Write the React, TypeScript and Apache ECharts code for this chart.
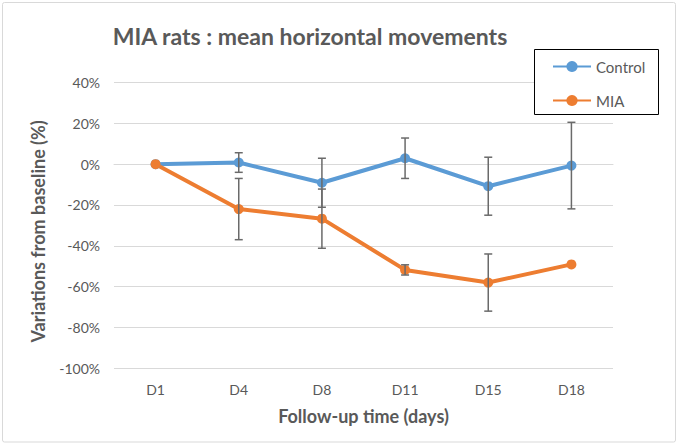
import React, { useEffect, useRef } from "react";
import * as echarts from "echarts";

const categories = ["D1", "D4", "D8", "D11", "D15", "D18"];
const controlValues = [0, 0.8, -9.1, 2.9, -10.8, -0.7];
const controlErrors: (number | null)[] = [null, 4.8, 12, 9.9, 14.2, 21.2];
const miaValues = [0, -22, -26.7, -51.8, -58, -49.1];
const miaErrors: (number | null)[] = [null, 15, 14.5, 2.5, 14, null];
const yMin = -100;
const yMax = 40;
const yStep = 20;

const TEXT = "#595959";
const FONT = "Lato, 'Noto Sans', sans-serif";

function errorData(values: number[], errors: (number | null)[]) {
  const out: number[][] = [];
  values.forEach((v, i) => {
    const e = errors[i];
    if (e != null) out.push([i, v - e, v + e]);
  });
  return out;
}

function errorSeries(name: string, data: number[][]) {
  return {
    name,
    type: "custom",
    z: 3,
    data,
    encode: { x: 0, y: [1, 2] },
    renderItem: (params: any, api: any) => {
      const x = api.value(0);
      const lo = api.coord([x, api.value(1)]);
      const hi = api.coord([x, api.value(2)]);
      const hw = 4;
      const style = { stroke: "#6a6a6a", lineWidth: 1.5 };
      return {
        type: "group",
        children: [
          { type: "line", shape: { x1: hi[0], y1: hi[1], x2: lo[0], y2: lo[1] }, style },
          { type: "line", shape: { x1: hi[0] - hw, y1: hi[1], x2: hi[0] + hw, y2: hi[1] }, style },
          { type: "line", shape: { x1: lo[0] - hw, y1: lo[1], x2: lo[0] + hw, y2: lo[1] }, style },
        ],
      };
    },
  };
}

export default function App() {
  const ref = useRef<HTMLDivElement>(null);
  useEffect(() => {
    if (!ref.current) return;
    const chart = echarts.init(ref.current, undefined, { renderer: "svg" });
    chart.setOption({
      animation: false,
      backgroundColor: "#ffffff",
      textStyle: { fontFamily: FONT },
      graphic: [
        {
          type: "rect",
          z: 0,
          shape: { x: 2.5, y: 2.5, width: 673, height: 439.5, r: 2 },
          style: { fill: "none", stroke: "#d9d9d9", lineWidth: 1 },
        },
        {
          type: "text",
          x: 310,
          y: 36,
          style: {
            text: "MIA rats : mean horizontal movements",
            align: "center",
            verticalAlign: "middle",
            fill: TEXT,
            font: `bold 23px ${FONT}`,
          },
        },
        {
          type: "rect",
          z: 5,
          shape: { x: 534.5, y: 49.5, width: 124, height: 65 },
          style: { fill: "#ffffff", stroke: "#000000", lineWidth: 1 },
        },
      ],
      legend: {
        z: 10,
        orient: "vertical",
        left: 552,
        top: 59,
        padding: 0,
        itemWidth: 38,
        itemHeight: 14,
        itemGap: 19,
        data: ["Control", "MIA"],
        textStyle: { color: TEXT, fontSize: 15, fontFamily: FONT },
      },
      grid: { left: 114, right: 70, top: 82.5, bottom: 77.7, containLabel: false },
      xAxis: {
        type: "category",
        data: categories,
        boundaryGap: true,
        axisLine: { show: true, lineStyle: { color: "#d9d9d9", width: 1 } },
        axisTick: { show: false },
        axisLabel: { color: TEXT, fontSize: 14, margin: 14 },
        name: "Follow-up time (days)",
        nameLocation: "middle",
        nameGap: 39,
        nameTextStyle: { color: TEXT, fontSize: 18, fontWeight: "bold" },
      },
      yAxis: {
        type: "value",
        min: yMin,
        max: yMax,
        interval: yStep,
        axisLine: { show: false },
        axisTick: { show: false },
        splitLine: { lineStyle: { color: "#d9d9d9", width: 1 } },
        axisLabel: { color: TEXT, fontSize: 14, margin: 14, formatter: (v: number) => `${v}%` },
        name: "Variations from baseline (%)",
        nameLocation: "middle",
        nameGap: 67,
        nameTextStyle: { color: TEXT, fontSize: 18, fontWeight: "bold", padding: [0, 12, 0, 0] },
      },
      series: [
        {
          name: "Control",
          type: "line",
          data: controlValues,
          symbol: "circle",
          symbolSize: 10,
          lineStyle: { width: 4, color: "#5b9bd5" },
          itemStyle: { color: "#5b9bd5" },
          z: 2,
        },
        {
          name: "MIA",
          type: "line",
          data: miaValues,
          symbol: "circle",
          symbolSize: 10,
          lineStyle: { width: 4, color: "#ed7d31" },
          itemStyle: { color: "#ed7d31" },
          z: 2,
        },
        errorSeries("Control error", errorData(controlValues, controlErrors)),
        errorSeries("MIA error", errorData(miaValues, miaErrors)),
      ],
    });
    return () => chart.dispose();
  }, []);
  return (
    <div
      ref={ref}
      style={{ position: "fixed", left: 0, top: 0, width: 683, height: 446 }}
    />
  );
}
